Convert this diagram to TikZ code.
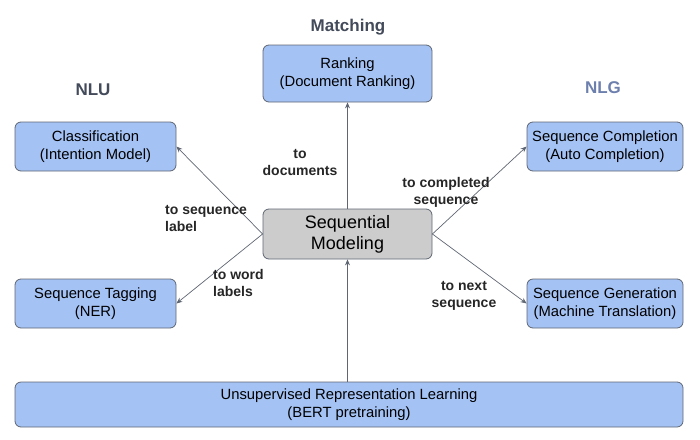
\documentclass[tikz,border=0pt]{standalone}
\usepackage{fontspec}
\setmainfont{Liberation Sans}
\usepackage{xcolor}
\usetikzlibrary{arrows.meta}

\definecolor{boxblue}{HTML}{A4C2F4}
\definecolor{boxgray}{HTML}{CCCCCC}
\definecolor{edgegray}{HTML}{5F6673}
\definecolor{titledark}{HTML}{434A5A}
\definecolor{titleblue}{HTML}{6D7FAD}

\begin{document}
\begin{tikzpicture}[x=1pt, y=-1pt,
    every node/.style={inner sep=0pt, text centered, font=\fontsize{14.8}{18}\selectfont},
    task/.style={draw=edgegray, line width=0.8pt, fill=boxblue, rounded corners=6pt, align=center},
    core/.style={task, fill=boxgray, font=\fontsize{18}{21}\selectfont},
    title/.style={font=\fontsize{17}{20}\selectfont\bfseries, text=titledark},
    tag/.style={font=\fontsize{14}{17}\selectfont\bfseries, text=black!85},
    link/.style={draw=edgegray, line width=0.7pt, -{Stealth[length=6pt, width=5pt]}}]
\useasboundingbox (0,0) rectangle (700,439);

% group titles
\node [title] (nlu) at (93,90) {NLU};
\node [title] (match) at (348,27) {Matching};
\node [title, text=titleblue] (nlg) at (603,88) {NLG};

% boxes
\node [task, minimum width=161pt, minimum height=49pt] (cls) at (95.5,146.5) {Classification\\(Intention Model)};
\node [task, minimum width=161pt, minimum height=49pt] (tagging) at (95.5,303.5) {Sequence Tagging\\(NER)};
\node [task, minimum width=169pt, minimum height=57pt] (rank) at (347.5,73.5) {Ranking\\(Document Ranking)};
\node [core, minimum width=169pt, minimum height=50pt] (seqmod) at (347.5,234) {Sequential\\Modeling};
\node [task, minimum width=156pt, minimum height=49pt] (compl) at (605,146.5) {Sequence Completion\\(Auto Completion)};
\node [task, minimum width=156pt, minimum height=49pt] (gen) at (605,303.5) {Sequence Generation\\(Machine Translation)};
\node [task, minimum width=668pt, minimum height=45pt] (pretrain) at (349,404.5) {Unsupervised Representation Learning\\(BERT pretraining)};

% connectors
\draw [link] (seqmod.west) -- (cls.east);
\draw [link] (seqmod.west) -- (tagging.east);
\draw [link] (seqmod.east) -- (compl.west);
\draw [link] (seqmod.east) -- (gen.west);
\draw [link] (seqmod.north) -- (rank.south);
\draw [link] (pretrain.north -| seqmod.south) -- (seqmod.south);

% edge labels
\node [tag, align=center] (ldoc) at (300,162) {to\\documents};
\node [tag, align=left, anchor=west] (lseq) at (165,218) {to sequence\\label};
\node [tag, align=left, anchor=west] (lword) at (213,283) {to word\\labels};
\node [tag, align=center] (lcompl) at (446,192) {to completed\\sequence};
\node [tag, align=center] (lnext) at (464,296) {to next\\sequence};
\end{tikzpicture}
\end{document}
